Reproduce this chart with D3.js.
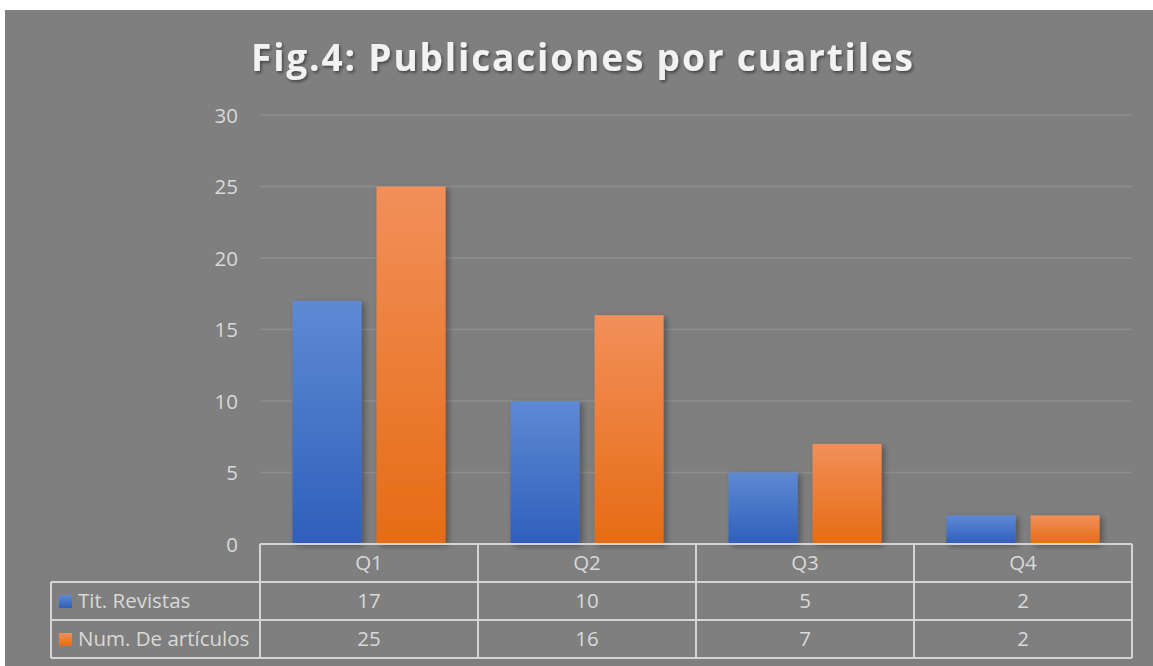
<!DOCTYPE html>
<html><head><meta charset="utf-8">
<script src="https://cdn.jsdelivr.net/npm/d3@7"></script>
<style>
html,body{margin:0;padding:0;background:#fff;}
svg{display:block;}
</style></head>
<body>
<svg id="chart" width="1153" height="666"></svg>
<script>
const title = "Fig.4: Publicaciones por cuartiles";
const categories = ["Q1", "Q2", "Q3", "Q4"];
const seriesNames = ["Tit. Revistas", "Num. De artículos"];
const titRevistas = [17, 10, 5, 2];
const numArticulos = [25, 16, 7, 2];
const yTicks = [0, 5, 10, 15, 20, 25, 30];

const series = [
  {name: seriesNames[0], values: titRevistas, top: "#5f89d3", bottom: "#2f5fbb"},
  {name: seriesNames[1], values: numArticulos, top: "#f28f5a", bottom: "#e56c14"}
];

const W = 1153, H = 666;
const svg = d3.select("#chart");
const defs = svg.append("defs");
series.forEach((s, i) => {
  const g = defs.append("linearGradient").attr("id", "grad" + i)
    .attr("x1", 0).attr("y1", 0).attr("x2", 0).attr("y2", 1);
  g.append("stop").attr("offset", "0%").attr("stop-color", s.top);
  g.append("stop").attr("offset", "100%").attr("stop-color", s.bottom);
});
const sh = defs.append("filter").attr("id", "shadow").attr("x", "-20%").attr("y", "-10%").attr("width", "150%").attr("height", "130%");
sh.append("feDropShadow").attr("dx", 3).attr("dy", 2).attr("stdDeviation", 3).attr("flood-color", "#000").attr("flood-opacity", 0.35);
const tsh = defs.append("filter").attr("id", "tshadow").attr("x", "-5%").attr("y", "-20%").attr("width", "110%").attr("height", "150%");
tsh.append("feDropShadow").attr("dx", 1.5).attr("dy", 2).attr("stdDeviation", 1.5).attr("flood-color", "#000").attr("flood-opacity", 0.45);

// background
svg.append("rect").attr("x", 5).attr("y", 10).attr("width", W - 5).attr("height", H - 10).attr("fill", "#7f7f7f");

// title
svg.append("text").attr("x", 251).attr("y", 71)
  .attr("font-family", "'Open Sans', sans-serif").attr("font-weight", 700).attr("font-size", 37)
  .attr("textLength", 662).attr("lengthAdjust", "spacing")
  .attr("fill", "#f2f2f2").attr("filter", "url(#tshadow)").text(title);

const plotL = 260, plotR = 1132, plotT = 115, plotB = 544;
const x = d3.scaleBand().domain(categories).range([plotL, plotR]).paddingInner(0).paddingOuter(0);
const y = d3.scaleLinear().domain([0, 30]).range([plotB, plotT]);

// grid lines
svg.append("g").selectAll("line").data(yTicks.filter(t => t > 0)).join("line")
  .attr("x1", plotL).attr("x2", plotR)
  .attr("y1", d => y(d)).attr("y2", d => y(d))
  .attr("stroke", "#8e8e8e").attr("stroke-width", 1.5);

const fs = 20.5;
// y axis labels
const yAxis = d3.axisLeft(y).tickValues(yTicks).tickSize(0).tickPadding(0);
const ya = svg.append("g").attr("transform", `translate(238,0)`).call(yAxis);
ya.select(".domain").remove();
ya.selectAll("text").attr("font-family", "'Open Sans', sans-serif").attr("font-size", fs)
  .attr("fill", "#d9d9d9").attr("dy", "0.35em");

// bars
const bw = 69, gap = 15;
const inner = d3.scaleBand().domain(d3.range(series.length)).range([0, x.bandwidth()]).paddingInner(gap / (bw + gap)).paddingOuter((x.bandwidth() - 2 * bw - gap) / 2 / (bw + gap));
series.forEach((s, i) => {
  svg.append("g").selectAll("rect").data(s.values).join("rect")
    .attr("x", (d, j) => x(categories[j]) + inner(i))
    .attr("width", inner.bandwidth())
    .attr("y", d => y(d)).attr("height", d => y(0) - y(d))
    .attr("fill", `url(#grad${i})`).attr("filter", "url(#shadow)");
});

// data table
const rowH = 38;
const tableLeft = 51;
const lineC = "#d4d4d4";
const tg = svg.append("g");
const rowsY = [plotB, plotB + rowH, plotB + 2 * rowH, plotB + 3 * rowH];
tg.append("line").attr("x1", plotL).attr("x2", plotR).attr("y1", rowsY[0]).attr("y2", rowsY[0]);
[1, 2, 3].forEach(k => tg.append("line").attr("x1", tableLeft).attr("x2", plotR).attr("y1", rowsY[k]).attr("y2", rowsY[k]));
tg.append("line").attr("x1", tableLeft).attr("x2", tableLeft).attr("y1", rowsY[1]).attr("y2", rowsY[3]);
categories.forEach(c => tg.append("line").attr("x1", x(c)).attr("x2", x(c)).attr("y1", rowsY[0]).attr("y2", rowsY[3]));
tg.append("line").attr("x1", plotR).attr("x2", plotR).attr("y1", rowsY[0]).attr("y2", rowsY[3]);
tg.selectAll("line").attr("stroke", lineC).attr("stroke-width", 2);

const txt = (sel) => sel.attr("font-family", "'Open Sans', sans-serif").attr("font-size", fs).attr("fill", "#d9d9d9");
svg.append("g").selectAll("text").data(categories).join("text")
  .attr("x", d => x(d) + x.bandwidth() / 2).attr("y", rowsY[0] + rowH / 2).attr("dy", "0.35em")
  .attr("text-anchor", "middle").call(txt).text(d => d);
series.forEach((s, i) => {
  const cy = rowsY[i + 1] + rowH / 2;
  svg.append("rect").attr("x", 59).attr("y", cy - 6).attr("width", 13).attr("height", 13).attr("fill", `url(#grad${i})`);
  svg.append("text").attr("x", 78).attr("y", cy).attr("dy", "0.35em").call(txt).text(s.name);
  svg.append("g").selectAll("text").data(s.values).join("text")
    .attr("x", (d, j) => x(categories[j]) + x.bandwidth() / 2).attr("y", cy).attr("dy", "0.35em")
    .attr("text-anchor", "middle").call(txt).text(d => d);
});
</script>
</body></html>
